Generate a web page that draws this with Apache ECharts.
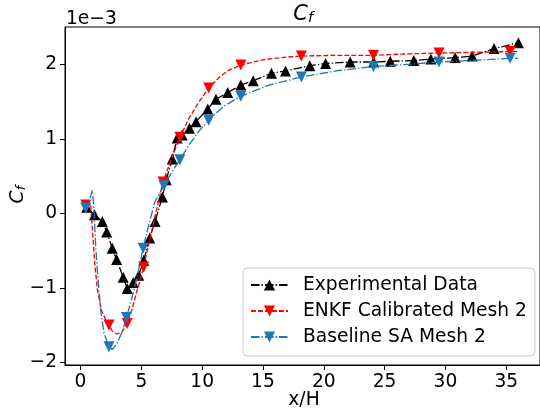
<!DOCTYPE html>
<html>
<head>
<meta charset="utf-8">
<script src="https://cdn.jsdelivr.net/npm/echarts@6/dist/echarts.min.js"></script>
<style>
  html, body { margin: 0; padding: 0; background: #fff; }
  #chart { width: 540px; height: 416px; }
</style>
</head>
<body>
<div id="chart"></div>
<script>
// values are Cf in units of 1e-3
const expX = [0.51, 1.15, 1.8, 2.15, 2.61, 2.97, 3.51, 3.84, 4.33, 4.79, 5.2, 5.69, 6.13, 6.73, 7.05, 7.54, 7.95, 8.36, 8.96, 9.5, 10.46, 11.14, 12.1, 13.18, 14.2, 15.7, 16.85, 18.85, 20.15, 22.17, 24.1, 25.46, 27.4, 28.8, 30.8, 32.2, 34.0, 36.0]
const expY = [0.08, -0.02, -0.11, -0.25, -0.47, -0.62, -0.86, -1.01, -0.93, -0.83, -0.63, -0.33, -0.11, 0.22, 0.45, 0.73, 1.01, 1.05, 1.14, 1.23, 1.40, 1.53, 1.62, 1.72, 1.78, 1.88, 1.91, 1.98, 2.01, 2.03, 2.03, 2.04, 2.05, 2.07, 2.09, 2.11, 2.21, 2.29]

const enkfX = [0.25, 0.43, 0.84, 0.98, 1.17, 1.39, 1.72, 2.07, 2.34, 2.6, 2.97, 3.43, 3.84, 4.25, 4.66, 5.2, 5.47, 6.1, 6.78, 7.5, 8.17, 8.9, 9.72, 10.54, 11.5, 12.2, 13.18, 15, 16.5, 18.16, 21, 24.08, 27, 29.47, 32, 35.32, 36]
const enkfY = [0.12, 0.11, 0.11, -0.22, -0.67, -1.03, -1.3, -1.43, -1.5, -1.58, -1.62, -1.59, -1.48, -1.28, -1.03, -0.72, -0.51, -0.06, 0.42, 0.74, 1.02, 1.27, 1.49, 1.68, 1.84, 1.92, 1.99, 2.06, 2.09, 2.11, 2.12, 2.12, 2.14, 2.15, 2.16, 2.17, 2.17]
const enkfMarks = [1, 8, 12, 15, 18, 20, 23, 26, 29, 31, 33, 35]

const baseX = [0.2, 0.43, 0.7, 0.98, 1.12, 1.25, 1.45, 1.66, 1.93, 2.34, 2.61, 3.02, 3.43, 3.78, 4.25, 4.66, 5.15, 5.47, 6.1, 6.86, 7.5, 8.17, 8.9, 9.72, 10.54, 11.8, 13.18, 15.5, 18.16, 21, 24.08, 27, 29.47, 32, 35.32, 36]
const baseY = [0.05, 0.07, 0.16, 0.31, 0.0, -0.45, -0.9, -1.3, -1.61, -1.79, -1.83, -1.74, -1.59, -1.4, -1.12, -0.85, -0.47, -0.25, 0.15, 0.37, 0.55, 0.72, 0.91, 1.1, 1.25, 1.44, 1.57, 1.72, 1.83, 1.91, 1.97, 2.0, 2.03, 2.05, 2.08, 2.08]
const baseMarks = [1, 9, 13, 16, 19, 21, 24, 26, 28, 30, 32, 34]

const xTicks = [0, 5, 10, 15, 20, 25, 30, 35]
const yTicks = [-2, -1, 0, 1, 2]

const FONT = 'DejaVu Sans'
const FS = 18.67
const DOWN = 'path://M0,0L2,0L1,2Z'
const minus = v => (v < 0 ? '\u2212' + (-v) : String(v))

// line data; only the listed indices get a marker
function lineData(xs, ys, marks, sym) {
  return xs.map((x, i) => ({
    value: [x, ys[i]],
    symbol: marks ? (marks.includes(i) ? sym : 'none') : sym
  }))
}

const chart = echarts.init(document.getElementById('chart'), null, { renderer: 'canvas' })

const axisCommon = {
  type: 'value',
  axisLine: { show: true, onZero: false, lineStyle: { color: '#000', width: 1 } },
  axisTick: { show: true, length: 5, lineStyle: { color: '#000', width: 1 } },
  axisLabel: { color: '#000', fontFamily: FONT, fontSize: FS, margin: 8, formatter: minus },
  splitLine: { show: false }
}

chart.setOption({
  animation: false,
  backgroundColor: '#fff',
  grid: {
    left: 65, top: 27, right: -3, bottom: 51,
    show: true, borderColor: '#000', borderWidth: 1, backgroundColor: 'transparent'
  },
  xAxis: Object.assign({}, axisCommon, {
    min: -1.275, max: 37.775,
    axisTick: Object.assign({}, axisCommon.axisTick, { customValues: xTicks }),
    axisLabel: Object.assign({}, axisCommon.axisLabel, { customValues: xTicks })
  }),
  yAxis: Object.assign({}, axisCommon, {
    min: -2.036, max: 2.5,
    axisTick: Object.assign({}, axisCommon.axisTick, { customValues: yTicks }),
    axisLabel: Object.assign({}, axisCommon.axisLabel, { customValues: yTicks })
  }),
  legend: {
    orient: 'vertical',
    left: 243, top: 268,
    padding: [6, 8, 8, 7],
    itemWidth: 37, itemHeight: 14, itemGap: 4,
    borderColor: '#cccccc', borderWidth: 1, borderRadius: 4,
    backgroundColor: 'rgba(255,255,255,0.8)',
    textStyle: { color: '#000', fontFamily: FONT, fontSize: FS, lineHeight: 22, padding: [0, 0, 0, 10] },
    data: ['Experimental Data', 'ENKF Calibrated Mesh 2', 'Baseline SA Mesh 2']
  },
  graphic: [
    { type: 'text', x: 66, y: 19, style: { text: '1e\u22123', fill: '#000', fontFamily: FONT, fontSize: FS, align: 'left', verticalAlign: 'middle' } },
    { type: 'text', x: 300.5, y: 14.5, style: { text: 'C', fill: '#000', fontFamily: FONT, fontStyle: 'italic', fontSize: 21, align: 'center', verticalAlign: 'middle' } },
    { type: 'text', x: 310.5, y: 18.5, style: { text: 'f', fill: '#000', fontFamily: FONT, fontStyle: 'italic', fontSize: 14.7, align: 'center', verticalAlign: 'middle' } },
    {
      type: 'group', x: 18, y: 197, rotation: Math.PI / 2,
      children: [
        { type: 'text', x: 0, y: 0, style: { text: 'C', fill: '#000', fontFamily: FONT, fontStyle: 'italic', fontSize: FS, align: 'center', verticalAlign: 'middle' } },
        { type: 'text', x: 9, y: 3.5, style: { text: 'f', fill: '#000', fontFamily: FONT, fontStyle: 'italic', fontSize: 13, align: 'center', verticalAlign: 'middle' } }
      ]
    },
    { type: 'text', x: 304, y: 400, style: { text: 'x/H', fill: '#000', fontFamily: FONT, fontSize: FS, align: 'center', verticalAlign: 'middle' } }
  ],
  series: [
    {
      type: 'line', name: 'Experimental Data',
      data: lineData(expX, expY, null, 'triangle'),
      symbol: 'triangle', symbolSize: 11, showAllSymbol: true,
      color: '#000',
      itemStyle: { color: '#000' },
      lineStyle: { color: '#000', width: 1.33, type: [8.5, 2.1, 1.3, 2.1] },
      z: 3
    },
    {
      type: 'line', name: 'ENKF Calibrated Mesh 2',
      data: lineData(enkfX, enkfY, enkfMarks, DOWN),
      symbol: DOWN, symbolSize: 11, showAllSymbol: true,
      color: '#ff0000',
      itemStyle: { color: '#ff0000' },
      lineStyle: { color: '#ff0000', width: 1.33, type: [4.9, 2.1] },
      z: 4
    },
    {
      type: 'line', name: 'Baseline SA Mesh 2',
      data: lineData(baseX, baseY, baseMarks, DOWN),
      symbol: DOWN, symbolSize: 11, showAllSymbol: true,
      color: '#1f77b4',
      itemStyle: { color: '#1f77b4' },
      lineStyle: { color: '#1f77b4', width: 1.33, type: [8.5, 2.1, 1.3, 2.1] },
      z: 5
    }
  ]
})
</script>
</body>
</html>
